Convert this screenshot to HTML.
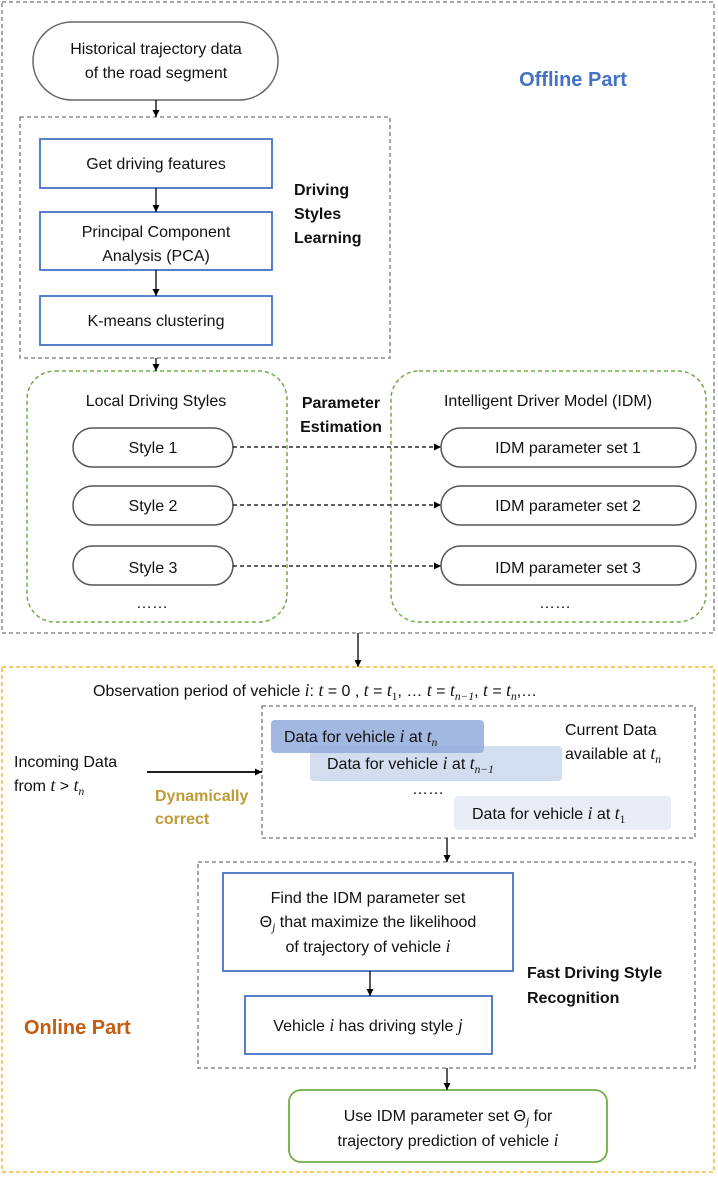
<!DOCTYPE html>
<html><head><meta charset="utf-8"><style>
html,body{margin:0;padding:0;background:#fff}
svg{display:block}
text{font-family:"Liberation Sans",sans-serif;font-size:16px;fill:#111}
.m{font-family:"Liberation Serif",serif;font-style:italic;font-size:17.5px}
.s{font-family:"Liberation Serif",serif;font-size:11.5px}
.si{font-family:"Liberation Serif",serif;font-style:italic;font-size:11.5px}
.b{font-weight:bold}
</style></head><body>
<svg width="718" height="1178" viewBox="0 0 718 1178" xmlns="http://www.w3.org/2000/svg">
<defs><marker id="a" markerWidth="8" markerHeight="8" refX="7" refY="4" orient="auto" markerUnits="userSpaceOnUse"><path d="M0,0.5 L7,4 L0,7.5z" fill="#000"/></marker></defs>
<g fill="none" stroke-width="1.3">
<rect x="2" y="2" width="712" height="631" stroke="#777" stroke-dasharray="4,3"/>
<rect x="33" y="22" width="245" height="78" rx="39" stroke="#666" stroke-width="1.5"/>
<rect x="20" y="117" width="370" height="241" stroke="#777" stroke-dasharray="4,3"/>
<rect x="40" y="139" width="232" height="49" stroke="#4472C4" stroke-width="1.8"/>
<rect x="40" y="212" width="232" height="58" stroke="#4472C4" stroke-width="1.8"/>
<rect x="40" y="296" width="232" height="49" stroke="#4472C4" stroke-width="1.8"/>
<rect x="27" y="371" width="260" height="251" rx="28" stroke="#70AD47" stroke-dasharray="4,3" stroke-width="1.5"/>
<rect x="391" y="371" width="315" height="251" rx="28" stroke="#70AD47" stroke-dasharray="4,3" stroke-width="1.5"/>
<rect x="73" y="428" width="160" height="39" rx="19.5" stroke="#555" stroke-width="1.5"/>
<rect x="73" y="486" width="160" height="39" rx="19.5" stroke="#555" stroke-width="1.5"/>
<rect x="73" y="546" width="160" height="39" rx="19.5" stroke="#555" stroke-width="1.5"/>
<rect x="441" y="428" width="255" height="39" rx="19.5" stroke="#555" stroke-width="1.5"/>
<rect x="441" y="486" width="255" height="39" rx="19.5" stroke="#555" stroke-width="1.5"/>
<rect x="441" y="546" width="255" height="39" rx="19.5" stroke="#555" stroke-width="1.5"/>
<rect x="2" y="667" width="712" height="505" stroke="#F5B82E" stroke-dasharray="4,3" stroke-width="1.5"/>
<rect x="262" y="706" width="433" height="132" stroke="#777" stroke-dasharray="4,3"/>
<rect x="198" y="862" width="497" height="206" stroke="#777" stroke-dasharray="4,3"/>
<rect x="223" y="873" width="290" height="98" stroke="#4472C4" stroke-width="1.8"/>
<rect x="245" y="996" width="247" height="58" stroke="#4472C4" stroke-width="1.8"/>
<rect x="289" y="1090" width="318" height="72" rx="12" stroke="#70AD47" stroke-width="1.8"/>
</g>
<rect x="454" y="796" width="217" height="34" rx="4" fill="#E8EDF7"/>
<rect x="310" y="746" width="252" height="35" rx="4" fill="#D3DDF0"/>
<rect x="271" y="720" width="213" height="33" rx="4" fill="#93ABDB" fill-opacity="0.85"/>
<g stroke="#000" stroke-width="1.3" fill="none">
<line x1="156" y1="100" x2="156" y2="117" marker-end="url(#a)"/>
<line x1="156" y1="188" x2="156" y2="212" marker-end="url(#a)"/>
<line x1="156" y1="270" x2="156" y2="296" marker-end="url(#a)"/>
<line x1="156" y1="358" x2="156" y2="371" marker-end="url(#a)"/>
<line x1="233" y1="447" x2="441" y2="447" stroke-dasharray="4,3" marker-end="url(#a)"/>
<line x1="233" y1="505" x2="441" y2="505" stroke-dasharray="4,3" marker-end="url(#a)"/>
<line x1="233" y1="566" x2="441" y2="566" stroke-dasharray="4,3" marker-end="url(#a)"/>
<line x1="358" y1="633" x2="358" y2="667" marker-end="url(#a)"/>
<line x1="147" y1="772" x2="262" y2="772" stroke-width="1.8" marker-end="url(#a)"/>
<line x1="447" y1="838" x2="447" y2="862" marker-end="url(#a)"/>
<line x1="370" y1="971" x2="370" y2="996" marker-end="url(#a)"/>
<line x1="447" y1="1068" x2="447" y2="1090" marker-end="url(#a)"/>
</g>
<g text-anchor="middle">
<text x="156" y="54">Historical trajectory data</text>
<text x="156" y="78">of the road segment</text>
<text x="156" y="169">Get driving features</text>
<text x="156" y="237">Principal Component</text>
<text x="156" y="261">Analysis (PCA)</text>
<text x="156" y="326">K-means clustering</text>
<text x="156" y="406">Local Driving Styles</text>
<text x="548" y="406">Intelligent Driver Model (IDM)</text>
<text x="153" y="453">Style 1</text>
<text x="153" y="511">Style 2</text>
<text x="153" y="573">Style 3</text>
<text x="568" y="453">IDM parameter set 1</text>
<text x="568" y="511">IDM parameter set 2</text>
<text x="568" y="573">IDM parameter set 3</text>
<text x="152" y="608">……</text>
<text x="555" y="608">……</text>
<text x="428" y="794">……</text>
<text x="341" y="408" class="b">Parameter</text>
<text x="341" y="432" class="b">Estimation</text>
<text x="573" y="86" class="b" style="font-size:20px;fill:#4472C4">Offline Part</text>
<text x="368" y="903">Find the IDM parameter set</text>
<text x="368" y="927">Θ<tspan class="si" dy="4">j</tspan><tspan dy="-4"> that maximize the likelihood</tspan></text>
<text x="368" y="952">of trajectory of vehicle <tspan class="m">i</tspan></text>
<text x="368" y="1031">Vehicle <tspan class="m">i</tspan> has driving style <tspan class="m">j</tspan></text>
<text x="448" y="1121">Use IDM parameter set Θ<tspan class="si" dy="4">j</tspan><tspan dy="-4"> for</tspan></text>
<text x="448" y="1146">trajectory prediction of vehicle <tspan class="m">i</tspan></text>
</g>
<text x="294" y="195" class="b">Driving</text>
<text x="294" y="219" class="b">Styles</text>
<text x="294" y="243" class="b">Learning</text>
<text x="93" y="696">Observation period of vehicle <tspan class="m">i</tspan>: <tspan class="m">t</tspan> = 0 , <tspan class="m">t</tspan> = <tspan class="m">t</tspan><tspan class="s" dy="4">1</tspan><tspan dy="-4">, … </tspan><tspan class="m">t</tspan> = <tspan class="m">t</tspan><tspan class="si" dy="4">n−1</tspan><tspan dy="-4">, </tspan><tspan class="m">t</tspan> = <tspan class="m">t</tspan><tspan class="si" dy="4">n</tspan><tspan dy="-4">,…</tspan></text>
<text x="284" y="742">Data for vehicle <tspan class="m">i</tspan> at <tspan class="m">t</tspan><tspan class="si" dy="4">n</tspan></text>
<text x="327" y="769">Data for vehicle <tspan class="m">i</tspan> at <tspan class="m">t</tspan><tspan class="si" dy="4">n−1</tspan></text>
<text x="472" y="819">Data for vehicle <tspan class="m">i</tspan> at <tspan class="m">t</tspan><tspan class="s" dy="4">1</tspan></text>
<text x="565" y="735">Current Data</text>
<text x="565" y="759">available at <tspan class="m">t</tspan><tspan class="si" dy="4">n</tspan></text>
<text x="14" y="767">Incoming Data</text>
<text x="14" y="791">from <tspan class="m">t</tspan> &gt; <tspan class="m">t</tspan><tspan class="si" dy="4">n</tspan></text>
<text x="155" y="801" class="b" style="fill:#BF9A35">Dynamically</text>
<text x="155" y="824" class="b" style="fill:#BF9A35">correct</text>
<text x="527" y="978" class="b">Fast Driving Style</text>
<text x="527" y="1003" class="b">Recognition</text>
<text x="24" y="1034" class="b" style="font-size:20px;fill:#C55A11">Online Part</text>
</svg>
</body></html>
